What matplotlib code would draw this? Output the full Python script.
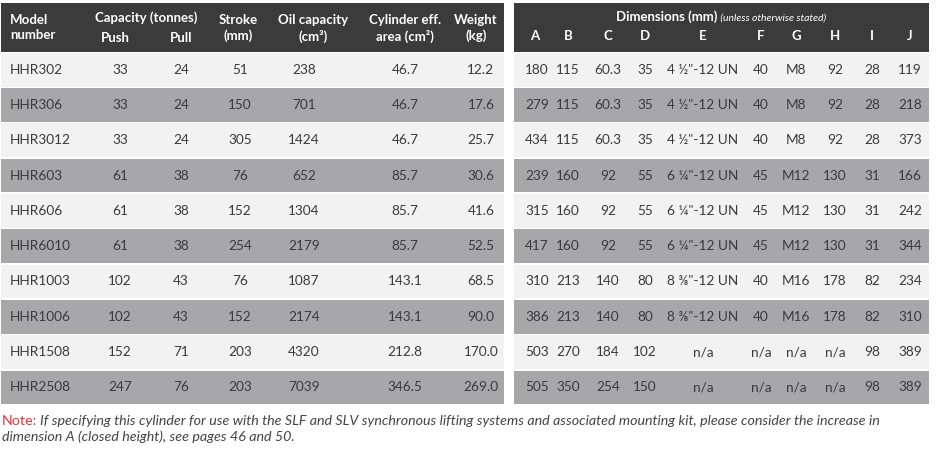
import matplotlib
matplotlib.use("Agg")
import matplotlib.pyplot as plt
from matplotlib.patches import Rectangle

plt.rcParams['font.family'] = ['Lato', 'DejaVu Sans']

# table data
models = ["HHR302", "HHR306", "HHR3012", "HHR603", "HHR606", "HHR6010",
          "HHR1003", "HHR1006", "HHR1508", "HHR2508"]
push = ["33", "33", "33", "61", "61", "61", "102", "102", "152", "247"]
pull = ["24", "24", "24", "38", "38", "38", "43", "43", "71", "76"]
stroke = ["51", "150", "305", "76", "152", "254", "76", "152", "203", "203"]
oil = ["238", "701", "1424", "652", "1304", "2179", "1087", "2174", "4320", "7039"]
area = ["46.7", "46.7", "46.7", "85.7", "85.7", "85.7", "143.1", "143.1", "212.8", "346.5"]
weight = ["12.2", "17.6", "25.7", "30.6", "41.6", "52.5", "68.5", "90.0", "170.0", "269.0"]

dim_a = ["180", "279", "434", "239", "315", "417", "310", "386", "503", "505"]
dim_b = ["115", "115", "115", "160", "160", "160", "213", "213", "270", "350"]
dim_c = ["60.3", "60.3", "60.3", "92", "92", "92", "140", "140", "184", "254"]
dim_d = ["35", "35", "35", "55", "55", "55", "80", "80", "102", "150"]
dim_e = ["4 \u00bd\"-12 UN"] * 3 + ["6 \u00bc\"-12 UN"] * 3 + ["8 \u215c\"-12 UN"] * 2 + ["n/a"] * 2
dim_f = ["40", "40", "40", "45", "45", "45", "40", "40", "n/a", "n/a"]
dim_g = ["M8", "M8", "M8", "M12", "M12", "M12", "M16", "M16", "n/a", "n/a"]
dim_h = ["92", "92", "92", "130", "130", "130", "178", "178", "n/a", "n/a"]
dim_i = ["28", "28", "28", "31", "31", "31", "82", "82", "98", "98"]
dim_j = ["119", "218", "373", "166", "242", "344", "234", "310", "389", "389"]
dim_labels = ["A", "B", "C", "D", "E", "F", "G", "H", "I", "J"]

HEAD = "#3b3b3b"
LIGHT = "#f2f2f2"
DARK = "#a7a7a9"
TXT = "#3a3a3a"

fig = plt.figure(figsize=(9.4, 4.55), dpi=100)
ax = fig.add_axes([0, 0, 1, 1])
ax.set_xlim(0, 940)
ax.set_ylim(455, 0)
ax.axis("off")

top, head_bot = 3, 52
row_h = 35.3
left_tab = (1, 504)
right_tab = (514, 929)

# headers
for x0, x1 in (left_tab, right_tab):
    ax.add_patch(Rectangle((x0, top), x1 - x0, head_bot - top, color=HEAD, lw=0))
    for i in range(len(models)):
        y0 = head_bot + i * row_h + 0.8
        ax.add_patch(Rectangle((x0, y0), x1 - x0, row_h - 1.6,
                               color=LIGHT if i % 2 == 0 else DARK, lw=0))

hkw = dict(color="white", fontsize=9.5, fontweight="bold", ha="center", va="center")
ax.text(10, 20, "Model", **{**hkw, "ha": "left"})
ax.text(10, 35, "number", **{**hkw, "ha": "left"})
ax.text(146, 18, "Capacity (tonnes)", **hkw)
ax.text(115, 38, "Push", **hkw)
ax.text(181, 38, "Pull", **hkw)
ax.text(238, 20, "Stroke", **hkw)
ax.text(238, 36, "(mm)", **hkw)
ax.text(313, 20, "Oil capacity", **hkw)
ax.text(313, 36, "(cm\u00b3)", **hkw)
ax.text(405, 20, "Cylinder eff.", **hkw)
ax.text(405, 36, "area (cm\u00b2)", **hkw)
ax.text(476, 20, "Weight", **hkw)
ax.text(476, 36, "(kg)", **hkw)

left_cols = [(push, 120), (pull, 181), (stroke, 240), (oil, 304), (area, 405), (weight, 481)]
right_x = [537, 568, 608, 645, 703, 761, 796, 835, 872, 910]
right_cols = [dim_a, dim_b, dim_c, dim_d, dim_e, dim_f, dim_g, dim_h, dim_i, dim_j]

for lab, x in zip(dim_labels, right_x):
    ax.text(x - 2 if lab == "A" else x, 36, lab, **hkw)

ckw = dict(color=TXT, fontsize=9.8, ha="center", va="center")
for i, m in enumerate(models):
    yc = head_bot + (i + 0.5) * row_h
    ax.text(10, yc, m, **{**ckw, "ha": "left"})
    for vals, x in left_cols:
        ax.text(x, yc, vals[i], **ckw)
    for vals, x in zip(right_cols, right_x):
        ax.text(x, yc, vals[i], **ckw)

# dimensions title: bold part + italic part, centred together
fig.canvas.draw()
r = fig.canvas.get_renderer()
t1 = ax.text(0, 17, "Dimensions (mm)", color="white", fontsize=9.5,
             fontweight="bold", va="center")
t2 = ax.text(0, 18, " (unless otherwise stated)", color="white", fontsize=7.5,
             style="italic", va="center")
w1 = t1.get_window_extent(r).width
w2 = t2.get_window_extent(r).width
x_start = 721 - (w1 + w2) / 2
t1.set_x(x_start)
t2.set_x(x_start + w1)

# note under table
n1 = ax.text(2, 421, "Note:", color="#e8323c", fontsize=10.3, va="center")
wn = n1.get_window_extent(r).width
nkw = dict(color="#444444", fontsize=10.3, style="italic", va="center")
ax.text(2 + wn + 3, 421, "If specifying this cylinder for use with the SLF and SLV synchronous "
        "lifting systems and associated mounting kit, please consider the increase in", **nkw)
ax.text(2, 437, "dimension A (closed height), see pages 46 and 50.", **nkw)

fig.savefig("out.png", dpi=100, facecolor="white")
